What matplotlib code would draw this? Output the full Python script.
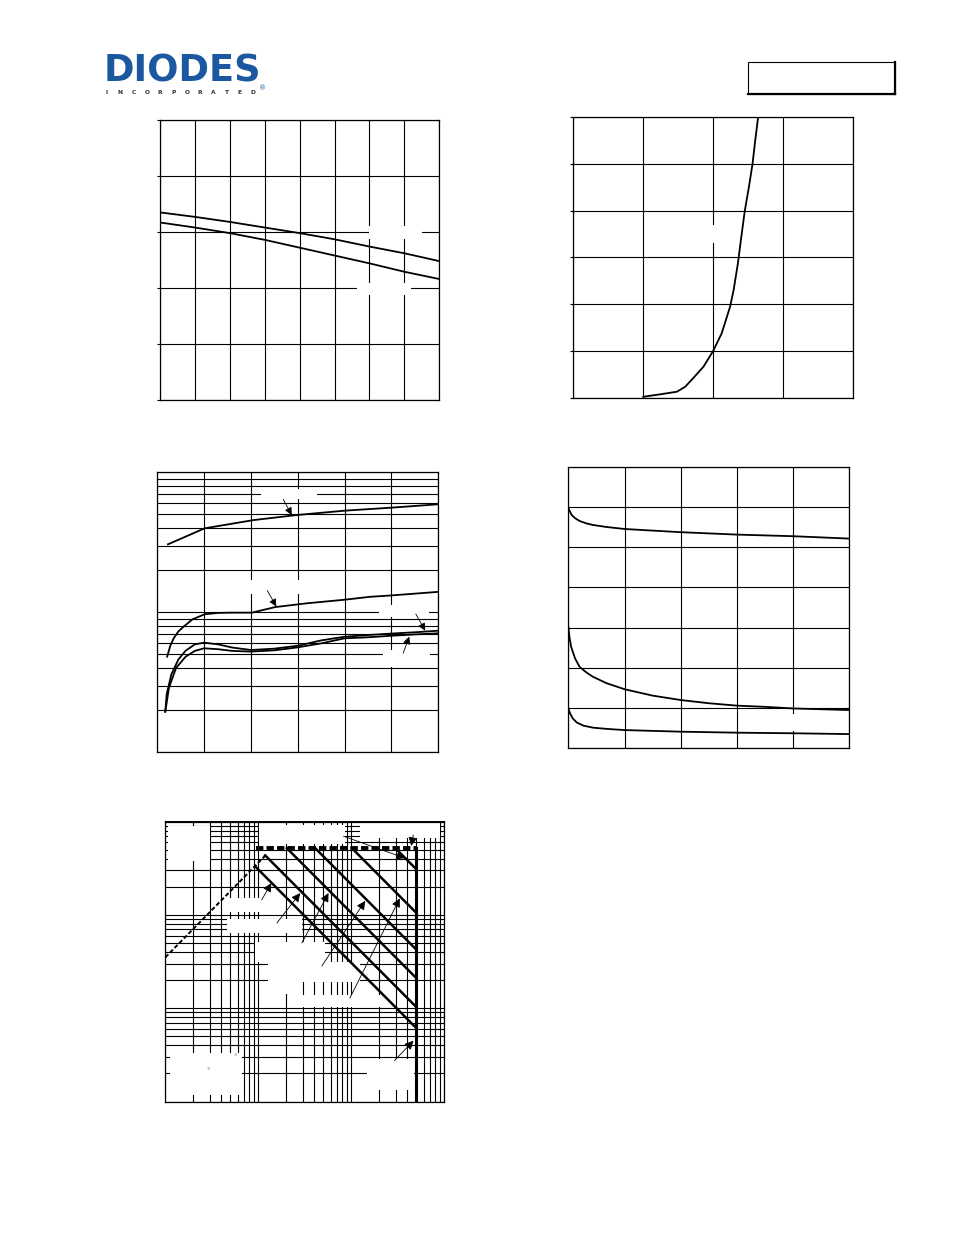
import numpy as np
import matplotlib
matplotlib.use("Agg")
import matplotlib.pyplot as plt
from matplotlib.patches import Rectangle
from matplotlib.lines import Line2D
from matplotlib.ticker import MultipleLocator, LogLocator

W, H = 954, 1235

# ---------------- data ----------------
# fig 1: gate threshold voltage vs junction temperature
temp = [-50, -25, 0, 25, 50, 75, 100, 125, 150]
vth_upper = [1.675, 1.635, 1.59, 1.54, 1.49, 1.435, 1.37, 1.31, 1.24]
vth_lower = [1.585, 1.54, 1.49, 1.43, 1.36, 1.29, 1.22, 1.145, 1.08]

# fig 2: transfer characteristic
vgs = [1.0, 1.24, 1.48, 1.6, 1.71, 1.86, 2.0, 2.12, 2.24, 2.29, 2.35, 2.4,
       2.45, 2.51, 2.56, 2.6, 2.64]
id_tr = [0.1, 0.36, 0.64, 1.18, 2.07, 3.32, 5.03, 6.89, 9.74, 11.5, 14.3,
         17.2, 20.0, 22.6, 25.0, 27.6, 30.0]

# fig 3: on-resistance vs drain current (log y)
id_top = [1.14, 3.1, 5.05, 10.3, 15, 20, 25, 30]
r_top = [30.6, 34.9, 39.8, 45.6, 49.6, 53.2, 55.9, 59.1]
id_mid = [1.05, 1.4, 1.75, 2.25, 2.8, 3.75, 5.05, 6.5, 7.8, 10.1, 12.6, 16,
          20, 22.7, 25, 30]
r_mid = [4.82, 5.8, 6.52, 7.3, 7.89, 8.9, 9.68, 9.9, 9.94, 9.94, 10.9, 11.6,
         12.3, 12.9, 13.2, 14.0]
id_p1 = [0.85, 1.0, 1.5, 2.25, 3.0, 4.0, 5.0, 6.5, 8.0, 10.0, 12.5, 15.0,
         17.5, 20.0, 22.5, 25.0, 27.5, 30.0]
r_p1 = [1.95, 2.6, 3.6, 4.6, 5.3, 5.9, 6.07, 5.9, 5.6, 5.38, 5.5, 5.77, 6.3,
        6.69, 6.88, 7.05, 7.2, 7.39]
id_p2 = [0.85, 1.25, 2.0, 3.0, 4.0, 5.0, 6.5, 8.0, 10.0, 12.5, 15.0, 17.5,
         20.0, 22.5, 25.0, 27.5, 30.0]
r_p2 = [1.95, 2.9, 4.0, 4.8, 5.3, 5.53, 5.45, 5.3, 5.24, 5.35, 5.62, 6.0,
        6.52, 6.63, 6.8, 6.95, 7.08]

# fig 4: capacitance vs drain-source voltage
vds_a = [0, 0.3, 0.6, 1.0, 1.6, 2.2, 3.4, 5, 7.5, 10, 12.5, 15, 17.5, 20, 22.5, 25]
c_a = [1196, 1162, 1146, 1132, 1120, 1112, 1102, 1092, 1084, 1076, 1070, 1064,
       1060, 1056, 1050, 1044]
vds_b = [0, 0.1, 0.25, 0.6, 1.0, 1.6, 2.2, 3.4, 5, 7.5, 10, 12.5, 15, 17.5, 20,
         22.5, 25]
c_b = [604, 554, 504, 446, 404, 376, 354, 322, 292, 260, 238, 222, 210, 204,
       196, 192, 188]
vds_c = [0, 0.15, 0.4, 0.75, 1.35, 2.2, 3.4, 5, 7.5, 10, 15, 20, 25]
c_c = [196, 172, 146, 126, 110, 100, 94, 88, 84, 80, 75, 72, 68]

# fig 5: safe operating area
rds_v = [0.1, 1.2]
rds_i = [0.35, 4.35]
i_limit = 5.2
v_limit_start = 0.95
bv_dss = 50
pulse_power = [3.06, 5.14, 10.5, 21.2, 52.5, 154]
pulse_v_start = [0.926, 1.186, 2.03, 4.08, 10.1, 29.6]
soa_arrows = [((8.25, 6.95), (37.8, 4.05)),
              ((46.4, 7.17), (44.1, 5.47)),
              ((1.09, 1.45), (1.38, 2.19)),
              ((1.585, 0.818), (2.82, 1.71)),
              ((2.94, 0.499), (5.69, 1.71)),
              ((4.82, 0.283), (14.1, 1.41)),
              ((9.64, 0.128), (33.2, 1.5)),
              ((29.1, 0.0274), (46.6, 0.0448))]
rds_arrows = [((13.45, 64.1), (14.35, 49.5)),
              ((11.75, 14.3), (12.7, 11.0)),
              ((27.6, 9.72), (28.6, 7.39)),
              ((26.25, 5.1), (26.9, 6.7))]

# ---------------- figure ----------------
fig = plt.figure(figsize=(W / 100, H / 100), dpi=100)
fig.patch.set_facecolor("white")


def page_axes(x0, y0, x1, y1):
    return fig.add_axes([x0 / W, 1 - y1 / H, (x1 - x0) / W, (y1 - y0) / H])


def blank(ax, x0, y0, x1, y1):
    # white label background (labels themselves are empty in the source)
    ax.add_patch(Rectangle((x0 / W, 1 - y1 / H), (x1 - x0) / W, (y1 - y0) / H,
                           transform=fig.transFigure, facecolor="white",
                           edgecolor="none", zorder=1.8))


def style(ax, left_ticks=False):
    ax.grid(True, which="both", color="black", lw=0.8)
    for s in ax.spines.values():
        s.set_linewidth(0.9)
    ax.tick_params(which="both", labelleft=False, labelbottom=False,
                   length=0)
    if left_ticks:
        ax.tick_params(axis="y", which="major", length=2.5, width=0.8,
                       direction="out", left=True)


def arrow(ax, tail, tip, scale):
    ax.annotate("", xy=tip, xytext=tail,
                arrowprops=dict(arrowstyle="-|>", color="black", lw=0.6,
                                mutation_scale=scale, shrinkA=0, shrinkB=0),
                zorder=3)


# fig 1
ax1 = page_axes(160, 120, 439.3, 400)
ax1.set_xlim(-50, 150)
ax1.set_ylim(0, 2.5)
ax1.xaxis.set_major_locator(MultipleLocator(25))
ax1.yaxis.set_major_locator(MultipleLocator(0.5))
style(ax1, True)
ax1.plot(temp, vth_upper, color="black", lw=1.3, zorder=2)
ax1.plot(temp, vth_lower, color="black", lw=1.3, zorder=2)
blank(ax1, 369, 226.5, 422, 239.5)
blank(ax1, 357, 283, 411, 295)

# fig 2
ax2 = page_axes(573.3, 117.3, 853.3, 397.7)
ax2.set_xlim(0, 4)
ax2.set_ylim(0, 30)
ax2.xaxis.set_major_locator(MultipleLocator(1))
ax2.yaxis.set_major_locator(MultipleLocator(5))
style(ax2, True)
ax2.plot(vgs, id_tr, color="black", lw=1.3, zorder=2)
blank(ax2, 690, 225, 735, 243)

# fig 3
ax3 = page_axes(157.3, 472.3, 438.3, 752.3)
ax3.set_yscale("log")
ax3.set_xlim(0, 30)
ax3.set_ylim(1, 100)
ax3.xaxis.set_major_locator(MultipleLocator(5))
ax3.yaxis.set_minor_locator(LogLocator(subs=range(2, 10)))
style(ax3)
for xs, ys in [(id_top, r_top), (id_mid, r_mid), (id_p1, r_p1), (id_p2, r_p2)]:
    ax3.plot(xs, ys, color="black", lw=1.3, zorder=2)
for tail, tip in rds_arrows:
    arrow(ax3, tail, tip, 11)
blank(ax3, 260.7, 489, 316.7, 499.5)
blank(ax3, 247, 580, 302, 594)
blank(ax3, 379.3, 605, 429.3, 616.5)
blank(ax3, 383, 650, 430, 667)

# fig 4
ax4 = page_axes(568.3, 467.3, 849.3, 747.7)
ax4.set_xlim(0, 25)
ax4.set_ylim(0, 1400)
ax4.xaxis.set_major_locator(MultipleLocator(5))
ax4.yaxis.set_major_locator(MultipleLocator(200))
style(ax4)
for xs, ys in [(vds_a, c_a), (vds_b, c_b), (vds_c, c_c)]:
    ax4.plot(xs, ys, color="black", lw=1.3, zorder=2)
blank(ax4, 770, 714, 810, 731)

# fig 5: SOA
ax5 = page_axes(165.3, 821.5, 444.3, 1101.5)
ax5.set_xscale("log")
ax5.set_yscale("log")
ax5.set_xlim(0.1, 100)
ax5.set_ylim(0.01, 10)
ax5.xaxis.set_minor_locator(LogLocator(subs=range(2, 10)))
ax5.yaxis.set_minor_locator(LogLocator(subs=range(2, 10)))
style(ax5)
ax5.plot(rds_v, rds_i, color="black", lw=1.4, dashes=(2.2, 1.2), zorder=2)
ax5.plot([v_limit_start, bv_dss], [i_limit, i_limit], color="black", lw=2.8,
         dashes=(1.9, 0.8), dash_capstyle="butt", zorder=2)
ax5.plot([bv_dss, bv_dss], [0.01, i_limit], color="black", lw=2.2, zorder=2)
for p, v0 in zip(pulse_power, pulse_v_start):
    ax5.plot([v0, bv_dss], [p / v0, p / bv_dss], color="black", lw=1.8,
             zorder=2)
for tail, tip in soa_arrows:
    arrow(ax5, tail, tip, 13)
for box in [(168, 826, 210, 861), (258.7, 825.3, 344.7, 844),
            (360, 823, 440, 838), (227, 898, 262, 911.5),
            (227, 919, 302, 933), (255, 941.5, 325, 961.5),
            (268.5, 961.5, 360, 981.5), (268.5, 981.5, 300, 994),
            (300, 994.5, 384, 1007), (170.3, 1053, 242, 1094.7),
            (367, 1059, 414, 1090)]:
    blank(ax5, *box)
fig.text(234.7 / W, 1 - 1057 / H, "°", fontsize=5, color="#777777",
         ha="center", va="center")
fig.text(208 / W, 1 - 1071.3 / H, "°", fontsize=5, color="#777777",
         ha="center", va="center")

# ---------------- header ----------------
fig.text(104 / W, 1 - 82 / H, "DIODES", fontsize=26.5, fontweight="bold",
         color="#1b58a0", va="baseline", ha="left")
for i, ch in enumerate("INCORPORATED"):
    fig.text((107 + i * 13.3) / W, 1 - 93.5 / H, ch, fontsize=4.3,
             fontweight="bold", color="#333333", ha="center", va="baseline")
fig.text(263 / W, 1 - 88 / H, "®", fontsize=5, color="#1b58a0",
         ha="center", va="center")

bx0, by0, bx1, by1 = 748.5, 61.5, 895.5, 94
fig.add_artist(Rectangle((bx0 / W, 1 - by1 / H), (bx1 - bx0) / W,
                         (by1 - by0) / H, transform=fig.transFigure,
                         facecolor="none", edgecolor="black", lw=0.8))
fig.add_artist(Line2D([bx1 / W, bx1 / W], [1 - by0 / H, 1 - by1 / H],
                      transform=fig.transFigure, color="black", lw=1.6))
fig.add_artist(Line2D([bx0 / W, bx1 / W], [1 - by1 / H, 1 - by1 / H],
                      transform=fig.transFigure, color="black", lw=1.6))

fig.savefig("out.png", dpi=100)
